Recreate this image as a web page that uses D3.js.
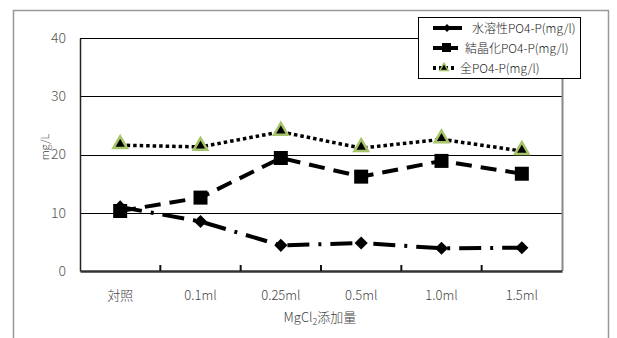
<!DOCTYPE html>
<html>
<head>
<meta charset="utf-8">
<script src="https://cdn.jsdelivr.net/npm/d3@7"></script>
<style>
  body { margin: 0; background: #fff; }
  svg text { font-family: "Noto Sans CJK JP", "Noto Sans", sans-serif; font-weight: 300; fill: #333; }
</style>
</head>
<body>
<svg id="svg" width="617" height="338"></svg>
<script>
// categories and series
const categories = ["対照", "0.1ml", "0.25ml", "0.5ml", "1.0ml", "1.5ml"];
const soluble = [11.0, 8.5, 4.4, 4.8, 3.9, 4.0];
const crystal = [10.3, 12.6, 19.4, 16.2, 18.9, 16.7];
const total = [21.6, 21.3, 23.9, 21.1, 22.6, 20.6];
const yTicks = [0, 10, 20, 30, 40];
const seriesNames = ["水溶性PO4-P(mg/l)", "結晶化PO4-P(mg/l)", "全PO4-P(mg/l)"];

let svg = d3.select("#svg");

// outer frame of the chart object
svg.append("path")
  .attr("d", "M13.5,338 V10.5 H608.5 V338")
  .style("fill", "none")
  .style("stroke", "#999")
  .style("stroke-width", 1.5);

let plotLeft = 80, plotRight = 562, plotTop = 38, plotBottom = 271;

let x = d3.scaleBand().domain(categories).range([plotLeft, plotRight]);
let y = d3.scaleLinear().domain([0, 40]).range([plotBottom, plotTop]);

// gridlines
svg.append("g")
  .selectAll("line")
  .data(yTicks.filter((d) => d > 0))
  .enter()
  .append("line")
  .attr("x1", plotLeft)
  .attr("x2", plotRight)
  .attr("y1", (d) => Math.round(y(d)) + 0.5)
  .attr("y2", (d) => Math.round(y(d)) + 0.5)
  .style("stroke", "#000")
  .style("stroke-width", 1);

// plot border (right side gray)
svg.append("line")
  .attr("x1", plotRight + 0.5).attr("x2", plotRight + 0.5)
  .attr("y1", plotTop).attr("y2", plotBottom)
  .style("stroke", "#888").style("stroke-width", 2);

// y axis
let yAxis = svg.append("g")
  .attr("transform", `translate(${plotLeft},0)`)
  .call(d3.axisLeft(y).tickValues(yTicks).tickSize(0).tickPadding(14));
yAxis.select(".domain").style("stroke", "#222").style("stroke-width", 1.5);
yAxis.selectAll("text")
  .style("font-size", "14px")
  .style("fill", "#555");

// x axis, ticks on band boundaries pointing inward
let xAxis = svg.append("g")
  .attr("transform", `translate(0,${plotBottom})`)
  .call(d3.axisBottom(x).tickSize(0).tickPadding(20));
xAxis.select(".domain").style("stroke", "#333").style("stroke-width", 2.5);
xAxis.selectAll("text")
  .style("font-size", "13px")
  .style("fill", "#444");
svg.append("g")
  .selectAll("line")
  .data(categories.slice(1))
  .enter()
  .append("line")
  .attr("x1", (d) => x(d))
  .attr("x2", (d) => x(d))
  .attr("y1", plotBottom - 6)
  .attr("y2", plotBottom)
  .style("stroke", "#111")
  .style("stroke-width", 2);

// axis titles
let xt = svg.append("text")
  .attr("x", 320)
  .attr("y", 322)
  .attr("text-anchor", "middle")
  .style("font-size", "13px")
  .style("fill", "#444");
xt.append("tspan").text("MgCl");
xt.append("tspan").text("2").attr("dy", 3).style("font-size", "9px");
xt.append("tspan").text("添加量").attr("dy", -3);

svg.append("text")
  .attr("transform", "translate(49,147) rotate(-90)")
  .attr("text-anchor", "middle")
  .style("font-size", "11px")
  .style("fill", "#444")
  .text("mg/L");

let cx = (d, i) => x(categories[i]) + x.bandwidth() / 2;

let line = d3.line()
  .x(cx)
  .y((d) => y(d));

// total (dotted)
svg.append("path")
  .datum(total)
  .attr("d", line)
  .style("fill", "none")
  .style("stroke", "#000")
  .style("stroke-width", 3.5)
  .style("stroke-dasharray", "3.5,3");
// crystallized (dashed)
svg.append("path")
  .datum(crystal)
  .attr("d", line)
  .style("fill", "none")
  .style("stroke", "#000")
  .style("stroke-width", 4)
  .style("stroke-dasharray", "16,9");
// soluble (dash-dot)
svg.append("path")
  .datum(soluble)
  .attr("d", line)
  .style("fill", "none")
  .style("stroke", "#000")
  .style("stroke-width", 4)
  .style("stroke-dasharray", "22,9,3,9");

// markers
svg.append("g")
  .selectAll("path")
  .data(soluble)
  .enter()
  .append("path")
  .attr("transform", (d, i) => `translate(${cx(d, i)},${y(d)})`)
  .attr("d", d3.symbol(d3.symbolDiamond2, 110))
  .style("fill", "#000");

svg.append("g")
  .selectAll("rect")
  .data(crystal)
  .enter()
  .append("rect")
  .attr("x", (d, i) => cx(d, i) - 7)
  .attr("y", (d) => y(d) - 7)
  .attr("width", 14)
  .attr("height", 14)
  .style("fill", "#000");

svg.append("g")
  .selectAll("path")
  .data(total)
  .enter()
  .append("path")
  .attr("transform", (d, i) => `translate(${cx(d, i)},${y(d) - 1})`)
  .attr("d", d3.symbol(d3.symbolTriangle, 80))
  .style("fill", "#000")
  .style("stroke", "#a6c46a")
  .style("stroke-width", 2.5);

// legend
let lg = svg.append("g");
lg.append("rect")
  .attr("x", 418.5).attr("y", 17.5)
  .attr("width", 162).attr("height", 61)
  .style("fill", "#fff")
  .style("stroke", "#000")
  .style("stroke-width", 1);

let rowsY = [28, 48, 68];
let textX = [472, 465, 460];
let dashes = ["none", "12,3", "3,3"];
let ends = [462, 458, 456];
seriesNames.forEach((name, i) => {
  lg.append("line")
    .attr("x1", 433).attr("x2", ends[i])
    .attr("y1", rowsY[i]).attr("y2", rowsY[i])
    .style("stroke", "#000")
    .style("stroke-width", 4)
    .style("stroke-dasharray", dashes[i]);
  lg.append("text")
    .attr("x", textX[i])
    .attr("y", rowsY[i] + 4.5)
    .style("font-size", "12px")
    .style("fill", "#222")
    .text(name);
});
lg.append("path")
  .attr("transform", `translate(447,${rowsY[0]})`)
  .attr("d", d3.symbol(d3.symbolDiamond2, 40))
  .style("fill", "#000");
lg.append("rect")
  .attr("x", 442).attr("y", rowsY[1] - 5)
  .attr("width", 9).attr("height", 9)
  .style("fill", "#000");
lg.append("path")
  .attr("transform", `translate(444,${rowsY[2]})`)
  .attr("d", d3.symbol(d3.symbolTriangle, 30))
  .style("fill", "#000")
  .style("stroke", "#a6c46a")
  .style("stroke-width", 1.5);
</script>
</body>
</html>
